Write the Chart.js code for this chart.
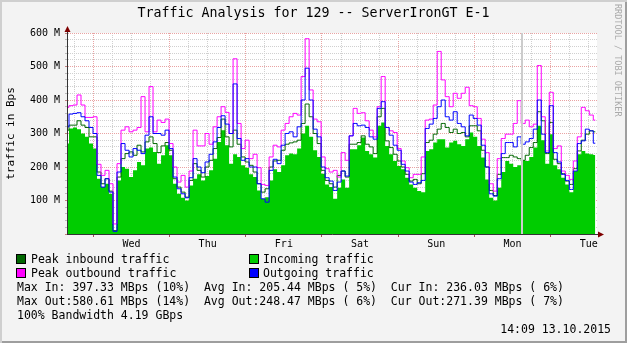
<!DOCTYPE html>
<html>
<head>
<meta charset="utf-8">
<script src="https://cdn.jsdelivr.net/npm/chart.js@4.4.1/dist/chart.umd.min.js"></script>
<style>
  html, body { margin: 0; padding: 0; background: #f3f3f3; }
  #wrap { position: relative; width: 627px; height: 343px; overflow: hidden;
          font-family: "DejaVu Sans Mono", monospace; color: #000; }
  #chart { position: absolute; left: 0; top: 0; }
  .shade { position: absolute; left: 0; top: 0; width: 627px; height: 343px; pointer-events: none;
           box-shadow: inset 2px 2px 0 #cfcfcf, inset -2px -2px 0 #9e9e9e; }
  .title { position: absolute; left: 0; top: 5px; width: 627px; text-align: center;
           font-size: 13.3px; line-height: 16px; }
  .mark { position: absolute; left: 613px; top: 4px; writing-mode: vertical-rl;
          font-size: 8.5px; line-height: 10px; color: #aaa; }
  .row { position: absolute; font-size: 11.5px; line-height: 14px; white-space: pre; }
  .sw { position: absolute; width: 8px; height: 8px; border: 1px solid #000; }
</style>
</head>
<body>
<div id="wrap">
  <canvas id="chart" width="627" height="343"></canvas>

  <div class="title">Traffic Analysis for 129 -- ServerIronGT E-1</div>
  <div class="mark">RRDTOOL / TOBI OETIKER</div>

  <div class="sw" style="left:16px; top:254px; background:#006600"></div>
  <div class="row" style="left:31px; top:252px">Peak inbound traffic</div>
  <div class="sw" style="left:249px; top:254px; background:#00cc00"></div>
  <div class="row" style="left:263px; top:252px">Incoming traffic</div>

  <div class="sw" style="left:16px; top:268px; background:#ff00ff"></div>
  <div class="row" style="left:31px; top:266px">Peak outbound traffic</div>
  <div class="sw" style="left:249px; top:268px; background:#0000ff"></div>
  <div class="row" style="left:263px; top:266px">Outgoing traffic</div>

  <div class="row" style="left:17px; top:280px">Max In: 397.33 MBps (10%)  Avg In: 205.44 MBps ( 5%)  Cur In: 236.03 MBps ( 6%)</div>
  <div class="row" style="left:17px; top:294px">Max Out:580.61 MBps (14%)  Avg Out:248.47 MBps ( 6%)  Cur Out:271.39 MBps ( 7%)</div>
  <div class="row" style="left:17px; top:308px">100% Bandwidth 4.19 GBps</div>
  <div class="row" style="right:16px; top:322px">14:09 13.10.2015</div>

  <div class="shade"></div>
</div>

<script>
// ============================
// data (MBps), one sample every ~1.26 h
// ============================

const FONT = "DejaVu Sans Mono";
const DAYS = ["Tue", "Wed", "Thu", "Fri", "Sat", "Sun", "Mon", "Tue"];

// hours relative to Wed 00:00
const T_START = -8.28;
const T_STEP = 1.26;
const T_END = 158.58;
const GAP_HOUR = 135;

const incoming = [
  270,315,318,313,300,290,270,255,165,140,150,120,10,160,200,195,170,190,215,205,255,258,245,
  210,235,265,235,150,120,108,100,145,165,178,160,173,190,225,275,310,265,210,238,230,205,
  198,178,170,130,105,110,160,193,185,205,235,240,238,255,300,323,290,250,230,180,148,140,
  105,138,163,138,253,253,265,288,248,238,228,323,333,263,238,218,203,193,168,148,138,128,
  125,248,253,273,283,283,258,273,278,268,263,283,303,290,263,228,163,108,100,138,185,218,210,
  200,205,220,218,230,258,323,280,210,298,205,193,168,148,125,188,238,248,240,238,236
];

const peakIn = [
  310,325,325,338,325,318,290,290,185,150,165,128,10,170,225,240,245,235,265,245,275,290,270,
  243,263,273,250,165,140,125,110,160,210,190,170,200,220,255,288,343,290,260,310,268,230,
  215,205,185,150,125,135,200,218,220,250,268,272,275,280,330,388,350,300,270,190,160,150,
  140,175,188,170,268,268,273,293,268,260,240,350,375,278,258,238,218,200,178,158,163,150,
  180,273,280,298,313,330,318,303,313,300,303,290,323,323,308,250,200,130,115,178,228,228,235,
  230,225,220,235,258,273,365,338,240,333,223,210,180,158,148,195,248,280,298,308,305
];

const outgoing = [
  320,358,360,362,350,338,318,300,175,140,165,125,8,185,270,250,230,255,250,240,295,350,300,
  300,295,310,255,170,135,120,108,168,225,200,183,215,238,275,318,353,328,300,448,285,220,
  225,200,200,150,105,95,190,223,210,265,300,305,290,320,400,495,400,313,290,200,168,158,
  130,155,188,173,293,330,323,325,318,290,283,375,395,318,295,265,250,208,188,155,148,153,
  160,315,328,345,380,400,350,340,365,330,320,293,355,345,325,265,200,120,113,165,240,273,273,
  260,290,268,275,285,313,400,298,243,383,243,215,178,160,133,188,270,278,313,308,271
];

const peakOut = [
  378,383,385,415,385,348,348,350,208,175,190,150,30,210,310,320,305,310,318,410,305,440,305,
  340,333,343,270,200,155,175,140,188,310,263,263,300,268,320,350,380,363,300,523,330,255,
  280,225,238,198,148,145,230,265,260,310,330,350,360,355,470,583,430,343,335,230,195,185,
  190,170,243,220,293,375,360,362,338,310,290,380,470,318,308,303,255,218,198,168,178,178,
  230,340,343,385,545,460,410,380,420,405,420,438,383,380,345,283,243,150,128,225,285,298,298,
  330,398,330,340,320,328,503,350,248,423,255,263,188,175,163,218,290,378,368,355,340
];


// ============================
// helpers
// ============================

function series(values) {
  return values.map((v, i) => ({ x: T_START + i * T_STEP, y: v }));
}

function dayLabel(v) {
  const h = Math.round(v);
  if (((h % 24) + 24) % 24 !== 12) return "";
  return DAYS[Math.floor(h / 24) + 1] || "";
}

const MINOR = "#d0d0d0";
const MAJOR = "#e9a3a3";

// white canvas, unknown-data bar, axis arrows
const rrdFrame = {
  id: "rrdFrame",
  beforeDraw(chart) {
    const a = chart.chartArea, ctx = chart.ctx;
    ctx.save();
    ctx.fillStyle = "#ffffff";
    ctx.fillRect(a.left, a.top, a.right - a.left, a.bottom - a.top);
    ctx.restore();
  },
  afterDraw(chart) {
    const a = chart.chartArea, ctx = chart.ctx;
    const gx = Math.round(chart.scales.x.getPixelForValue(GAP_HOUR));
    ctx.save();
    ctx.fillStyle = "#cccccc";
    ctx.fillRect(gx - 1, a.top, 2, a.bottom - a.top);

    ctx.strokeStyle = "#333";
    ctx.lineWidth = 1;
    ctx.beginPath();
    ctx.moveTo(a.left + 0.5, a.top);
    ctx.lineTo(a.left + 0.5, a.top - 3);
    ctx.moveTo(a.right, Math.round(a.bottom) + 0.5);
    ctx.lineTo(a.right + 2, Math.round(a.bottom) + 0.5);
    ctx.stroke();

    ctx.fillStyle = "#7f0000";
    ctx.beginPath();
    ctx.moveTo(a.left + 0.5, a.top - 7);
    ctx.lineTo(a.left - 2.5, a.top - 1);
    ctx.lineTo(a.left + 3.5, a.top - 1);
    ctx.closePath();
    ctx.fill();
    ctx.beginPath();
    ctx.moveTo(a.right + 7, a.bottom + 0.5);
    ctx.lineTo(a.right + 1, a.bottom - 2.5);
    ctx.lineTo(a.right + 1, a.bottom + 3.5);
    ctx.closePath();
    ctx.fill();
    ctx.restore();
  }
};


// ============================
// chart
// ============================

new Chart(document.getElementById("chart"), {
  type: "line",
  data: {
    datasets: [
      { label: "Outgoing traffic", data: series(outgoing), borderColor: "#0000ff",
        borderWidth: 1, pointRadius: 0, stepped: "middle", fill: false, order: 0 },
      { label: "Peak outbound traffic", data: series(peakOut), borderColor: "#ff00ff",
        borderWidth: 1, pointRadius: 0, stepped: "middle", fill: false, order: 1 },
      { label: "Peak inbound traffic", data: series(peakIn), borderColor: "#006600",
        borderWidth: 1, pointRadius: 0, stepped: "middle", fill: false, order: 2 },
      { label: "Incoming traffic", data: series(incoming), borderColor: "rgba(0,0,0,0)",
        backgroundColor: "#00cc00", borderWidth: 1, pointRadius: 0, stepped: "middle",
        fill: "origin", order: 3 }
    ]
  },
  options: {
    responsive: false,
    animation: false,
    events: [],
    layout: { padding: { left: 0, right: 30, top: 33, bottom: 93 } },
    plugins: { legend: { display: false }, tooltip: { enabled: false } },
    scales: {
      x: {
        type: "linear",
        min: T_START,
        max: T_END,
        afterFit: (s) => { s.height = 16; },
        ticks: {
          stepSize: 6, includeBounds: false, autoSkip: false, maxRotation: 0,
          padding: 1, color: "#000", font: { family: FONT, size: 10 },
          callback: dayLabel
        },
        grid: {
          color: (c) => (c.tick && Math.round(c.tick.value) % 24 === 0) ? MAJOR : MINOR,
          tickLength: 3,
          tickColor: (c) => (c.tick && Math.round(c.tick.value) % 24 === 0) ? "#a05050" : "rgba(0,0,0,0)"
        },
        border: { color: "#333", width: 1, dash: [1, 1], z: 1 }
      },
      y: {
        min: 0,
        max: 600,
        afterFit: (s) => { s.width = 67; },
        ticks: {
          stepSize: 20, autoSkip: false, padding: 5, color: "#000",
          font: { family: FONT, size: 10 },
          callback: (v) => (v % 100 === 0 && v > 0) ? v + " M" : ""
        },
        grid: {
          color: (c) => (c.tick && c.tick.value % 100 === 0) ? MAJOR : MINOR,
          tickLength: 2,
          tickColor: (c) => (c.tick && c.tick.value % 100 === 0) ? "#c08080" : "#bbbbbb"
        },
        border: { color: "#333", width: 1, dash: [1, 1], z: 1 },
        title: {
          display: true, text: "traffic in Bps", color: "#000",
          font: { family: FONT, size: 11 }, padding: { top: 5, bottom: 0 }
        }
      }
    }
  },
  plugins: [rrdFrame]
});
</script>
</body>
</html>
